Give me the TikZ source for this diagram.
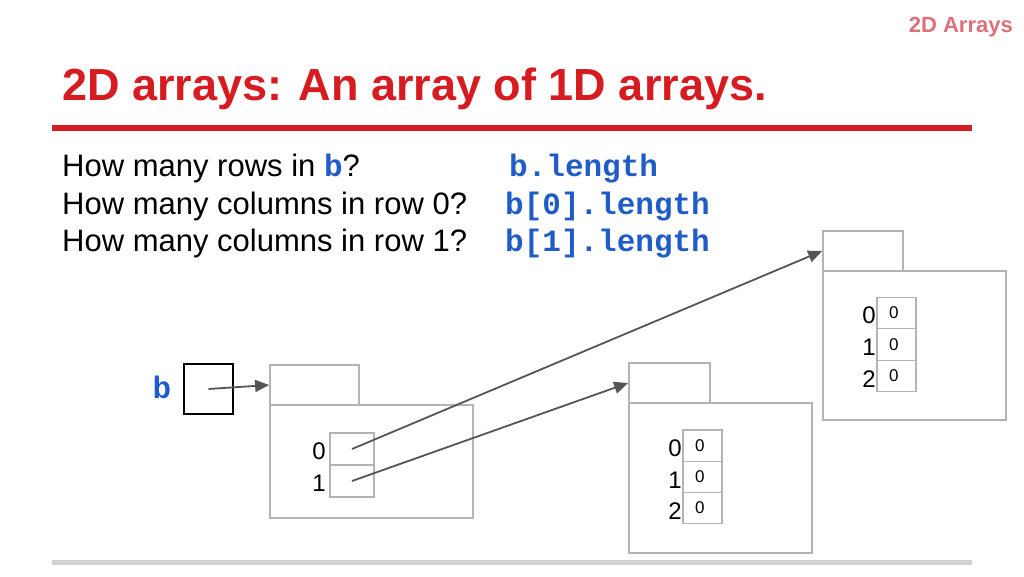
\documentclass[tikz,border=0pt]{standalone}
\usepackage{fontspec}
\setmainfont{Liberation Sans}
\setmonofont{Liberation Mono}
\usetikzlibrary{arrows.meta}
\definecolor{titlered}{RGB}{214,28,32}
\definecolor{hdrred}{RGB}{222,112,124}
\definecolor{codeblue}{RGB}{32,92,200}
\definecolor{boxgray}{RGB}{180,180,180}
\definecolor{ptrgray}{RGB}{85,85,85}
\definecolor{rulegray}{RGB}{210,210,210}
\tikzset{
	obj/.style={draw=boxgray,line width=1.8pt,inner sep=0pt},
	cell/.style={draw=boxgray,line width=1.3pt,inner sep=0pt,text width=15pt,font=\fontsize{17}{17}\selectfont},
	idx/.style={anchor=east,inner sep=0pt,font=\fontsize{24}{24}\selectfont},
	ptr/.style={draw=ptrgray,line width=1.8pt,-{Triangle[length=14pt,width=12pt]}},
	ask/.style={anchor=base west,inner sep=0pt,font=\fontsize{31}{31}\selectfont},
	code/.style={anchor=base west,inner sep=0pt,text=codeblue,font=\ttfamily\bfseries\fontsize{31}{31}\selectfont}
}

\begin{document}
\begin{tikzpicture}[x=1pt,y=-1pt]
	\useasboundingbox (0,0) rectangle (1024,576);

		\node[anchor=base east,inner sep=0pt,text=hdrred,font=\bfseries\fontsize{22}{22}\selectfont] (hdr) at (1013,32) {2D Arrays};
		\node[anchor=base west,inner sep=0pt,text=titlered,font=\bfseries\fontsize{45}{45}\selectfont] (title) at (62,100) {2D arrays: An array of 1D arrays.};
		\draw[titlered,line width=6pt] (52,128) -- (972,128);
		\draw[rulegray,line width=5pt] (52,562) -- (972,562);

		\node[ask] (q1) at (62,176) {How many rows in \textcolor{codeblue}{\ttfamily\bfseries b}?};
		\node[ask] (q2) at (62,214) {How many columns in row 0?};
		\node[ask] (q3) at (62,251) {How many columns in row 1?};
		\node[code] (a1) at (509,176) {b.length};
		\node[code] (a2) at (505,214) {b[0].length};
		\node[code] (a3) at (505,251) {b[1].length};

		\node[text=codeblue,font=\ttfamily\bfseries\fontsize{31}{31}\selectfont] (bname) at (162,387) {b};
		\node[draw=black,line width=1.8pt,minimum width=49pt,minimum height=50pt,inner sep=0pt] (bvar) at (208.5,389) {};

		\node[obj,minimum width=89pt,minimum height=40pt] (tabb) at (314.5,385) {};
		\node[obj,minimum width=203pt,minimum height=113pt] (objb) at (371.5,461.5) {};
		\node[cell,minimum width=44pt,minimum height=32pt,text width=30pt] (b0) at (352,449) {};
		\node[cell,minimum width=44pt,minimum height=32pt,text width=30pt] (b1) at (352,481) {};
		\node[idx] (ib0) at (326,451) {0};
		\node[idx] (ib1) at (326,483) {1};

		\node[obj,minimum width=80pt,minimum height=40pt] (tabr) at (863,251) {};
		\node[obj,minimum width=183pt,minimum height=149pt] (objr) at (914.5,345.5) {};
		\node[cell,minimum width=39pt,minimum height=31.5pt] (r0) at (896.5,313) {0};
		\node[cell,minimum width=39pt,minimum height=31.5pt] (r1) at (896.5,344.5) {0};
		\node[cell,minimum width=39pt,minimum height=31.5pt] (r2) at (896.5,376) {0};
		\node[idx] (ir0) at (876,315) {0};
		\node[idx] (ir1) at (876,347) {1};
		\node[idx] (ir2) at (876,379) {2};

		\node[obj,minimum width=81pt,minimum height=40pt] (tabm) at (669.5,383) {};
		\node[obj,minimum width=183pt,minimum height=150pt] (objm) at (720.5,478) {};
		\node[cell,minimum width=39pt,minimum height=31.3pt] (m0) at (702.5,445.5) {0};
		\node[cell,minimum width=39pt,minimum height=31.3pt] (m1) at (702.5,476.8) {0};
		\node[cell,minimum width=39pt,minimum height=31.3pt] (m2) at (702.5,508.1) {0};
		\node[idx] (im0) at (682,448) {0};
		\node[idx] (im1) at (682,480) {1};
		\node[idx] (im2) at (682,511) {2};

		\draw[ptr] (bvar.center) -- (tabb.west);
		\draw[ptr] (b0.center) -- (tabr.west);
		\draw[ptr] (b1.center) -- (tabm.west);

\end{tikzpicture}
\end{document}
